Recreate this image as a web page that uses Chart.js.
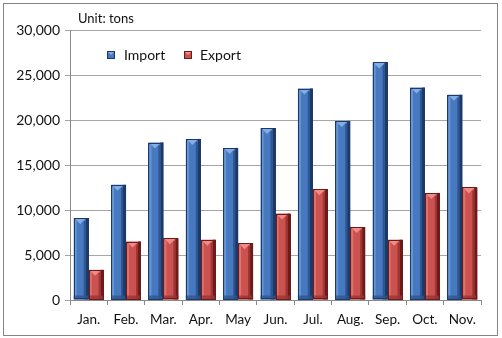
<!DOCTYPE html>
<html>
<head>
<meta charset="utf-8">
<script src="https://cdn.jsdelivr.net/npm/chart.js@4/dist/chart.umd.min.js"></script>
<style>
html,body{margin:0;padding:0;background:#fff;}
#wrap{width:502px;height:338px;position:relative;}
</style>
</head>
<body>
<div id="wrap"><canvas id="c" width="502" height="338"></canvas></div>
<script>
const months = ['Jan.','Feb.','Mar.','Apr.','May','Jun.','Jul.','Aug.','Sep.','Oct.','Nov.'];
const importTons = [9100,12800,17500,17900,16900,19100,23500,19900,26400,23600,22800];
const exportTons = [3350,6500,6850,6700,6300,9600,12300,8100,6700,11900,12500];
const seriesNames = ['Import','Export'];
const unitLabel = 'Unit: tons';
const yMax = 30000;
const yStep = 5000;

const FONT = 'Lato, "Open Sans", sans-serif';
const palettes = [
  {base:'#4679c0', light:'#84ade4', dark:'#1d3a66', mid:'#2f5590'},
  {base:'#cc524f', light:'#ef8c88', dark:'#6a1c1b', mid:'#9c3533'}
];

const framePlugin = {
  id:'frame',
  beforeDraw(chart){
    const ctx = chart.ctx;
    ctx.save();
    ctx.fillStyle = '#ffffff';
    ctx.fillRect(0,0,chart.width,chart.height);
    ctx.strokeStyle = '#848484';
    ctx.lineWidth = 1;
    ctx.strokeRect(3.5,3.5,494,332);
    ctx.restore();
  },
  afterDatasetsDraw(chart){
    const ctx = chart.ctx;
    ctx.save();
    chart.data.datasets.forEach((ds, di) => {
      const meta = chart.getDatasetMeta(di);
      const p = palettes[di];
      meta.data.forEach(bar => {
        const {x, y, width, base} = bar.getProps(['x','y','width','base'], true);
        const l = x - width/2, r = x + width/2;
        const h = base - y;
        ctx.fillStyle = p.light;
        ctx.globalAlpha = 0.55;
        ctx.fillRect(l+1, y+2, 2, h-2);
        ctx.globalAlpha = 1;
        ctx.fillStyle = p.dark;
        ctx.fillRect(r-3, y, 3, h);
        ctx.fillStyle = p.mid;
        ctx.fillRect(r-5, y+3, 2, h-3);
        ctx.fillStyle = p.mid;
        ctx.globalAlpha = 0.8;
        ctx.fillRect(l, base-4, width, 4);
        ctx.globalAlpha = 1;
        ctx.fillStyle = p.light;
        ctx.beginPath();
        ctx.moveTo(l+1, y+0.5);
        ctx.lineTo(r-3, y+0.5);
        ctx.lineTo(x-1, y+6);
        ctx.closePath();
        ctx.fill();
        ctx.strokeStyle = p.dark;
        ctx.lineWidth = 1;
        ctx.strokeRect(Math.round(l)+0.5, Math.round(y)+0.5, Math.round(width)-1, Math.round(h)-1);
      });
    });
    ctx.restore();
  },
  afterDraw(chart){
    const ctx = chart.ctx;
    ctx.save();
    ctx.fillStyle = '#111111';
    ctx.font = '13px ' + FONT;
    ctx.textBaseline = 'middle';
    ctx.textAlign = 'left';
    ctx.fillText(unitLabel, 78, 19);
    const items = [{mx:107, tx:124},{mx:184, tx:200}];
    chart.data.datasets.forEach((ds, i) => {
      const it = items[i];
      const p = palettes[i];
      const cy = 55;
      ctx.fillStyle = p.base;
      ctx.fillRect(it.mx, cy-4, 8, 8);
      ctx.fillStyle = p.light;
      ctx.beginPath();
      ctx.moveTo(it.mx, cy-4); ctx.lineTo(it.mx+8, cy-4); ctx.lineTo(it.mx+4, cy); ctx.closePath(); ctx.fill();
      ctx.strokeStyle = p.dark;
      ctx.strokeRect(it.mx+0.5, cy-3.5, 7, 7);
      ctx.fillStyle = '#111111';
      ctx.font = '14px ' + FONT;
      ctx.fillText(ds.label, it.tx, cy);
    });
    ctx.restore();
  }
};

new Chart(document.getElementById('c'), {
  type:'bar',
  data:{
    labels: months,
    datasets:[
      {label: seriesNames[0], data: importTons, backgroundColor: palettes[0].base, borderWidth:0,
       categoryPercentage:0.8, barPercentage:1.0},
      {label: seriesNames[1], data: exportTons, backgroundColor: palettes[1].base, borderWidth:0,
       categoryPercentage:0.8, barPercentage:1.0}
    ]
  },
  options:{
    responsive:false,
    animation:false,
    devicePixelRatio:1,
    layout:{padding:{top:30, right:21, bottom:0, left:0}},
    plugins:{legend:{display:false}, title:{display:false}, tooltip:{enabled:false}},
    scales:{
      x:{
        offset:true,
        grid:{display:true, drawOnChartArea:false, drawTicks:true, tickLength:5, color:'#8a8a8a', offset:true},
        border:{display:true, color:'#8a8a8a'},
        ticks:{color:'#111111', font:{family:FONT, size:13.5}, padding:7, maxRotation:0, autoSkip:false},
        afterFit(s){ s.height = 38; }
      },
      y:{
        min:0, max:yMax,
        grid:{color:'#a6a6a6', tickLength:5, drawTicks:true},
        border:{display:true, color:'#8a8a8a'},
        ticks:{stepSize:yStep, color:'#111111', font:{family:FONT, size:14}, padding:5,
          callback:v => v.toLocaleString('en-US')},
        afterFit(s){ s.width = 70; }
      }
    }
  },
  plugins:[framePlugin]
});
</script>
</body>
</html>
